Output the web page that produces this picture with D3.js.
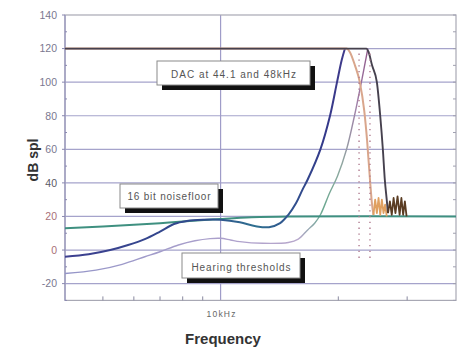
<!DOCTYPE html>
<html>
<head>
<meta charset="utf-8">
<script src="https://cdn.jsdelivr.net/npm/d3@7"></script>
<style>
  body { margin: 0; background: #fff; }
  svg { display: block; font-family: "Liberation Sans", Arial, sans-serif; }
</style>
</head>
<body>
<svg id="chart" width="461" height="347"></svg>
<script>
// Frequency in kHz, level in dB SPL
const hearingThresholdA = [[4,-4],[4.6,-2.5],[5.22,0],[5.8,3],[6.4,6.5],[7.0,11],[7.6,15.5],[8.2,17.3],[9,18],[10,18],[11.2,16.5],[12.3,14.2],[13.3,13.6],[14.2,16],[14.9,21],[15.6,28],[16.2,36],[16.7,42],[18.0,60],[19.05,80],[19.85,100],[20.4,113],[20.8,120]];
const hearingThresholdB = [[4,-14],[4.8,-12],[5.6,-8.5],[6.4,-4],[7,-1],[7.8,3],[8.6,5.5],[9.4,6.8],[10,7],[10.6,6],[11.2,5],[12.8,4],[14.9,4.5],[15.8,6.5],[16.7,12],[17.4,16],[18,21],[19.0,34],[19.9,44],[21.0,60],[22.0,80],[22.5,91],[23.0,102],[23.4,111],[23.8,120]];
const noiseFloor16bit = [[4,13],[5,14],[6,15],[7,16],[8,17],[10,18.5],[12,19.5],[15,20],[40,20]];
const dac44Rolloff = [[4,120],[21.0,120],[21.4,118],[22.06,110],[22.7,100],[23.3,83],[23.7,65],[24.1,42],[24.4,27],[24.6,21]];
const dac44Ripple = [[24.6,21],[24.85,30],[25.1,22],[25.35,31],[25.6,21],[25.85,30],[26.1,22],[26.35,27],[26.6,20]];
const dac48Rolloff = [[4,120],[23.6,120],[23.9,118],[24.4,110],[25.1,100],[25.6,80],[26.0,60],[26.3,42],[26.6,30],[26.8,22]];
const dac48Ripple = [[26.8,22],[27.1,29],[27.4,21],[27.7,31],[28.0,22],[28.35,32],[28.7,21],[29.0,31],[29.3,21],[29.6,29],[29.9,20]];
const nyquistMarks = [22.6, 24.1];

const yTicks = [-20, 0, 20, 40, 60, 80, 100, 120, 140];
const yMinorTicks = [-30,-10,10,30,50,70,90,110,130];
const xMinorTicks = [5, 6, 7, 8, 9, 20, 30];
const xLabelTicks = [10];
const xLabelText = ["10kHz"];
const annotationTexts = ["DAC at 44.1 and 48kHz", "16 bit noisefloor", "Hearing thresholds"];

const svg = d3.select("#chart");
const plot = { left: 65, right: 456, top: 15, bottom: 300.4 };

const x = d3.scaleLog().domain([4, 40]).range([plot.left, plot.right]);
const y = d3.scaleLinear().domain([-30, 140]).range([plot.bottom, plot.top]);

// gradients for the colour-shifting threshold curves
const defs = svg.append("defs");
function grad(id, stops) {
  const g = defs.append("linearGradient").attr("id", id)
    .attr("gradientUnits", "userSpaceOnUse")
    .attr("x1", plot.left).attr("x2", 372).attr("y1", 0).attr("y2", 0);
  stops.forEach(([o, c]) => g.append("stop").attr("offset", o).attr("stop-color", c));
}
grad("gradA", [[0, "#3d3f90"], [0.45, "#2f4a8c"], [0.62, "#2f7090"], [0.72, "#30558e"], [0.85, "#34388a"], [1, "#54408c"]]);
grad("gradB", [[0, "#9495c8"], [0.6, "#b0a2cc"], [0.76, "#b8a8cc"], [0.84, "#6aa890"], [0.9, "#8fa8a0"], [0.95, "#a080a8"], [1, "#8a4a80"]]);

// horizontal grid
svg.append("g").selectAll("line").data(yTicks.filter(d => d < 140)).join("line")
  .attr("x1", plot.left).attr("x2", plot.right)
  .attr("y1", d => y(d)).attr("y2", d => y(d))
  .attr("stroke", "#a5a3cb").attr("stroke-width", 1.2);

// vertical grid at 10 kHz
svg.append("g").selectAll("line").data(xLabelTicks).join("line")
  .attr("x1", d => x(d)).attr("x2", d => x(d))
  .attr("y1", plot.top).attr("y2", plot.bottom)
  .attr("stroke", "#9f9cc8").attr("stroke-width", 1.2);

// plot frame
svg.append("rect")
  .attr("x", plot.left).attr("y", plot.top)
  .attr("width", plot.right - plot.left).attr("height", plot.bottom - plot.top)
  .attr("fill", "none").attr("stroke", "#a8a8b4").attr("stroke-width", 1.2);
svg.append("line").attr("x1", plot.left).attr("x2", plot.left)
  .attr("y1", plot.top).attr("y2", plot.bottom)
  .attr("stroke", "#9a98c0").attr("stroke-width", 1.3);

// axis ticks
svg.append("g").selectAll("line").data(yTicks).join("line")
  .attr("x1", plot.left - 3).attr("x2", plot.left)
  .attr("y1", d => y(d)).attr("y2", d => y(d)).attr("stroke", "#8a88b0");
svg.append("g").selectAll("line").data(yMinorTicks).join("line")
  .attr("x1", plot.left).attr("x2", plot.left + 2)
  .attr("y1", d => y(d)).attr("y2", d => y(d)).attr("stroke", "#8a88b0");
svg.append("g").selectAll("line").data(yMinorTicks.concat(yTicks)).join("line")
  .attr("x1", plot.right - 3).attr("x2", plot.right)
  .attr("y1", d => y(d)).attr("y2", d => y(d)).attr("stroke", "#a0a0b0");
svg.append("g").selectAll("line").data(xMinorTicks).join("line")
  .attr("x1", d => x(d)).attr("x2", d => x(d))
  .attr("y1", plot.bottom - 4).attr("y2", plot.bottom).attr("stroke", "#8a8aa0");

// y tick labels
const tickColor = v => (v === 20 || v === 0) ? "#a87078" : (v === 40 ? "#5a5a66" : "#7a7890");
svg.append("g").selectAll("text").data(yTicks).join("text")
  .attr("x", plot.left - 8).attr("y", d => y(d)).attr("dy", "0.36em")
  .attr("text-anchor", "end").attr("font-size", 10.5)
  .attr("fill", tickColor).text(d => d);

// x tick label
svg.append("g").selectAll("text").data(xLabelTicks).join("text")
  .attr("x", d => x(d) + 1).attr("y", 316.5)
  .attr("text-anchor", "middle").attr("font-size", 8.5)
  .attr("letter-spacing", 1.2).attr("fill", "#666")
  .text((d, i) => xLabelText[i]);

// axis titles
svg.append("text").attr("x", 223).attr("y", 344)
  .attr("text-anchor", "middle").attr("font-size", 15).attr("font-weight", "bold")
  .attr("fill", "#333").text("Frequency");
svg.append("text").attr("transform", "translate(38,160) rotate(-90)")
  .attr("text-anchor", "middle").attr("font-size", 14).attr("font-weight", "bold")
  .attr("fill", "#333").text("dB spl");

// curves
const smooth = d3.line().x(d => x(d[0])).y(d => y(d[1])).curve(d3.curveCatmullRom.alpha(0.5));
const line = d3.line().x(d => x(d[0])).y(d => y(d[1])).curve(d3.curveMonotoneX);
const lineSharp = d3.line().x(d => x(d[0])).y(d => y(d[1]));
const curves = svg.append("g").attr("fill", "none").attr("stroke-linejoin", "round");

curves.append("path").datum(hearingThresholdB).attr("d", smooth)
  .attr("stroke", "url(#gradB)").attr("stroke-width", 1.4);
curves.append("path").datum(noiseFloor16bit).attr("d", smooth)
  .attr("stroke", "#3f9080").attr("stroke-width", 2);
curves.append("path").datum(hearingThresholdA).attr("d", smooth)
  .attr("stroke", "url(#gradA)").attr("stroke-width", 2);

// Nyquist markers
svg.append("g").selectAll("line").data(nyquistMarks).join("line")
  .attr("x1", d => x(d)).attr("x2", d => x(d))
  .attr("y1", y(117)).attr("y2", y(-5))
  .attr("stroke", "#b07a8e").attr("stroke-width", 1.4)
  .attr("stroke-dasharray", "1.3,4.5");

curves.append("path").datum(dac44Rolloff).attr("d", line)
  .attr("stroke", "#d9a68c").attr("stroke-width", 2);
curves.append("path").datum(dac44Ripple).attr("d", lineSharp)
  .attr("stroke", "#e0a060").attr("stroke-width", 1.8);
curves.append("path").datum(dac48Rolloff).attr("d", line)
  .attr("stroke", "#46414e").attr("stroke-width", 1.9);
curves.append("path").datum(dac48Ripple).attr("d", lineSharp)
  .attr("stroke", "#5a3c22").attr("stroke-width", 1.8);

// annotation boxes with drop shadows
const boxes = [
  { left: 157, top: 61, w: 153, h: 24, tw: 125, base: 78 },
  { left: 120, top: 184, w: 98, h: 24, tw: 83, base: 200 },
  { left: 182, top: 253, w: 118, h: 25, tw: 99, base: 271 }
];
const ann = svg.append("g");
boxes.forEach((b, i) => {
  ann.append("rect").attr("x", b.left + 5).attr("y", b.top + 5)
    .attr("width", b.w).attr("height", b.h).attr("fill", "#111");
  ann.append("rect").attr("x", b.left).attr("y", b.top)
    .attr("width", b.w).attr("height", b.h)
    .attr("fill", "#fff").attr("stroke", "#8a8a8a").attr("stroke-width", 1);
  ann.append("text").attr("x", b.left + b.w / 2).attr("y", b.base)
    .attr("text-anchor", "middle").attr("font-size", 10)
    .attr("textLength", b.tw).attr("lengthAdjust", "spacing")
    .attr("fill", "#555").text(annotationTexts[i]);
});
</script>
</body>
</html>
